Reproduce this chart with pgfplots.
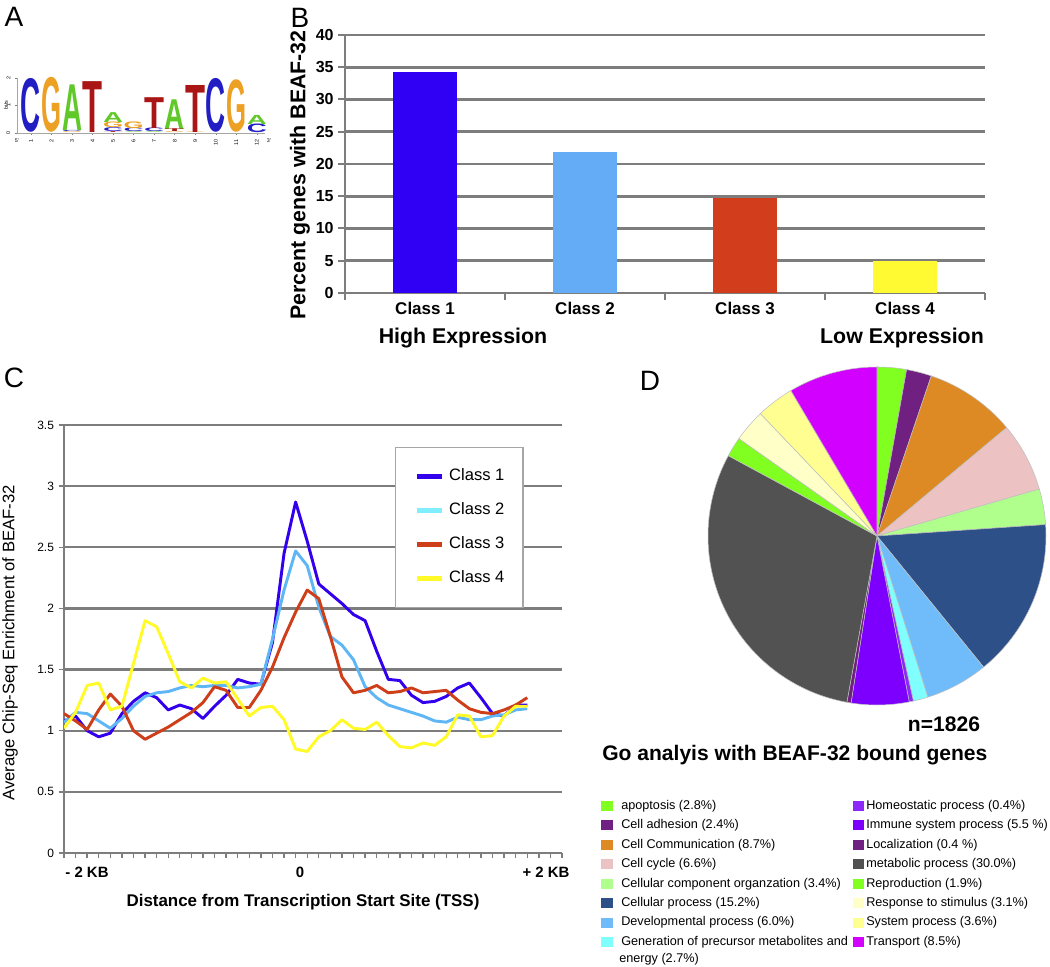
\documentclass[border=0pt]{standalone}
\usepackage{fontspec}
\setmainfont{Liberation Sans}
\usepackage{graphicx}
\usepackage{pgfplots}
\usepackage{pgfplotstable}
\pgfplotsset{compat=1.18}

\newcommand\fs[1]{\fontsize{#1pt}{#1pt}\selectfont}

% colours
\definecolor{axgray}{RGB}{125,125,125}
\definecolor{logoA}{RGB}{96,200,40}
\definecolor{logoC}{RGB}{34,30,196}
\definecolor{logoG}{RGB}{236,160,36}
\definecolor{logoT}{RGB}{170,22,22}
\definecolor{b1}{RGB}{48,0,245}
\definecolor{b2}{RGB}{100,172,245}
\definecolor{b3}{RGB}{210,62,28}
\definecolor{b4}{RGB}{255,250,50}
\definecolor{l1}{RGB}{51,0,238}
\definecolor{l2}{RGB}{95,182,245}
\definecolor{l2leg}{RGB}{128,238,252}
\definecolor{l3}{RGB}{205,62,25}
\definecolor{l4}{RGB}{255,250,40}
\definecolor{cApop}{RGB}{128,255,32}
\definecolor{cAdh}{RGB}{112,32,128}
\definecolor{cComm}{RGB}{222,138,36}
\definecolor{cCyc}{RGB}{236,194,194}
\definecolor{cComp}{RGB}{176,255,140}
\definecolor{cCell}{RGB}{46,80,136}
\definecolor{cDev}{RGB}{112,188,250}
\definecolor{cGen}{RGB}{128,255,255}
\definecolor{cHom}{RGB}{140,40,250}
\definecolor{cImm}{RGB}{125,0,255}
\definecolor{cLoc}{RGB}{112,32,128}
\definecolor{cMet}{RGB}{82,82,82}
\definecolor{cRep}{RGB}{128,255,32}
\definecolor{cResp}{RGB}{255,255,200}
\definecolor{cSys}{RGB}{255,255,145}
\definecolor{cTrans}{RGB}{210,0,255}

% A: motif letters, one table per base (position, stack base, height in bits)
\pgfplotstableread{
pos base h
3 0.07 1.66
5 0.37 0.36
6 0.00 0.03
7 0.00 0.03
8 0.13 1.08
12 0.31 0.33
}\logoAdata
\pgfplotstableread{
pos base h
1 0.00 1.93
3 0.03 0.04
5 0.03 0.14
6 0.03 0.13
7 0.03 0.13
10 0.00 1.93
12 0.00 0.31
}\logoCdata
\pgfplotstableread{
pos base h
2 0.00 1.97
3 0.00 0.03
5 0.17 0.20
6 0.16 0.24
8 0.00 0.03
9 0.00 0.02
11 0.00 1.88
}\logoGdata
\pgfplotstableread{
pos base h
4 0.00 1.85
5 0.00 0.03
7 0.16 1.12
8 0.03 0.10
9 0.02 1.71
}\logoTdata

% C: enrichment profiles, 41 bins from -2 kb to +2 kb
\pgfplotstableread{
i c1 c2 c3 c4
0 1.08 1.07 1.14 1.02
1 1.12 1.15 1.08 1.15
2 1.00 1.14 1.01 1.37
3 0.95 1.08 1.17 1.39
4 0.98 1.02 1.30 1.17
5 1.14 1.10 1.20 1.20
6 1.24 1.20 1.00 1.55
7 1.31 1.28 0.93 1.90
8 1.27 1.31 0.98 1.85
9 1.17 1.32 1.03 1.63
10 1.21 1.35 1.09 1.40
11 1.18 1.37 1.15 1.35
12 1.10 1.36 1.23 1.43
13 1.20 1.37 1.36 1.39
14 1.29 1.37 1.33 1.40
15 1.42 1.35 1.19 1.26
16 1.39 1.36 1.19 1.12
17 1.38 1.38 1.33 1.19
18 1.72 1.75 1.52 1.20
19 2.45 2.15 1.76 1.09
20 2.87 2.47 1.97 0.85
21 2.55 2.35 2.15 0.83
22 2.20 2.01 2.08 0.95
23 2.12 1.77 1.77 1.00
24 2.04 1.70 1.44 1.09
25 1.95 1.58 1.31 1.02
26 1.90 1.36 1.33 1.01
27 1.65 1.27 1.37 1.07
28 1.42 1.21 1.31 0.96
29 1.41 1.18 1.32 0.87
30 1.29 1.15 1.35 0.86
31 1.23 1.12 1.31 0.90
32 1.24 1.08 1.32 0.88
33 1.28 1.07 1.33 0.95
34 1.35 1.11 1.25 1.13
35 1.39 1.09 1.18 1.12
36 1.27 1.09 1.15 0.95
37 1.14 1.12 1.14 0.96
38 1.12 1.13 1.17 1.12
39 1.21 1.17 1.21 1.20
40 1.21 1.18 1.27 1.20
}\cdata

% D: GO categories, clockwise from 12 o'clock
\pgfplotstableread{
pct col
2.8 cApop
2.4 cAdh
8.7 cComm
6.6 cCyc
3.4 cComp
15.2 cCell
6.0 cDev
1.4 cGen
0.4 cHom
5.5 cImm
0.4 cLoc
30.0 cMet
1.9 cRep
3.1 cResp
3.6 cSys
8.5 cTrans
}\piedata

\pgfplotsset{
  /pgf/number format/assume math mode=true,
  logo letter/.style 2 args={draw=none, mark=none,
    visualization depends on={\thisrow{h}*20.625 \as \hgt},
    nodes near coords={\resizebox{15pt}{\hgt pt}{\textcolor{logo#1}{\bfseries #1}}},
    every node near coord/.append style={anchor=south, inner sep=0pt}},
}

\begin{document}
\begin{tikzpicture}[x=0.75pt,y=0.75pt]
\path[use as bounding box] (0,0) rectangle (1050,967);

% ---------------- panel labels
\node[font=\fs{21}] at (14,950) {A};
\node[font=\fs{21}] at (300,949) {B};
\node[font=\fs{21}] at (14,589) {C};
\node[font=\fs{21}] at (650,586) {D};

% ---------------- A: sequence logo
\begin{axis}[
  at={(12.75pt,625.5pt)}, anchor=south west, scale only axis,
  width=186pt, height=41.25pt,
  xmin=0.32, xmax=12.4, ymin=0, ymax=2,
  axis x line*=bottom, axis y line*=left,
  axis line style={draw=gray!70, line width=0.4pt},
  xtick={1,...,12}, ytick={0,1,2},
  ticklabel style={font=\fs{4}},
  xticklabel style={rotate=90, anchor=east},
  yticklabel style={rotate=90, anchor=south},
  tick style={draw=gray, line width=0.3pt}, major tick length=1.5pt, tick align=outside,
  clip=false,
]
\addplot[logo letter={A}{}] table[x=pos, y=base] {\logoAdata};
\addplot[logo letter={C}{}] table[x=pos, y=base] {\logoCdata};
\addplot[logo letter={G}{}] table[x=pos, y=base] {\logoGdata};
\addplot[logo letter={T}{}] table[x=pos, y=base] {\logoTdata};
\end{axis}
\node[font=\fs{4}, rotate=90] at (6,862) {bits};
\node[font=\fs{4}] at (17,826) {5'};
\node[font=\fs{4}] at (269,826) {3'};

% ---------------- B: bars
\begin{axis}[
  at={(258.75pt,505.5pt)}, anchor=south west, scale only axis,
  width=480pt, height=193.5pt,
  xmin=0, xmax=4, ymin=0, ymax=40,
  xtick={0,1,2,3,4}, xticklabels={},
  ytick={0,5,...,40},
  extra x ticks={0.5,1.5,2.5,3.5},
  extra x tick labels={Class 1,Class 2,Class 3,Class 4},
  extra x tick style={major tick length=0pt, grid=none,
    tick label style={font=\bfseries\fs{12.75}, yshift=-3pt}},
  yticklabel style={font=\bfseries\fs{12}},
  ymajorgrids, grid style={draw=axgray, line width=2pt},
  axis x line*=bottom, axis y line*=left,
  axis line style={draw=axgray, line width=2pt},
  tick align=outside, major tick length=5pt,
  tick style={draw=axgray, line width=1.5pt},
]
\addplot[ybar, bar shift=0pt, bar width=48pt, fill=b1, draw=none] coordinates {(0.5,34.3)};
\addplot[ybar, bar shift=0pt, bar width=48pt, fill=b2, draw=none] coordinates {(1.5,21.9)};
\addplot[ybar, bar shift=0pt, bar width=48pt, fill=b3, draw=none] coordinates {(2.5,14.7)};
\addplot[ybar, bar shift=0pt, bar width=48pt, fill=b4, draw=none] coordinates {(3.5,4.9)};
\end{axis}
\node[font=\bfseries\fs{16}, rotate=90] at (300,792) {Percent genes with BEAF-32};
\node[font=\bfseries\fs{16}] at (463,629) {High Expression};
\node[font=\bfseries\fs{16}] at (902,629) {Low Expression};

% ---------------- C: profiles
\begin{axis}[
  at={(48pt,85.5pt)}, anchor=south west, scale only axis,
  width=373.5pt, height=321pt,
  xmin=0, xmax=43, ymin=0, ymax=3.5,
  xtick={0,...,43}, xticklabels={},
  ytick={0,0.5,1,1.5,2,2.5,3,3.5},
  yticklabel style={font=\fs{9}},
  ymajorgrids, grid style={draw=axgray, line width=1.7pt},
  axis x line*=bottom, axis y line*=left,
  axis line style={draw=axgray, line width=1.7pt},
  tick align=outside, major tick length=4pt,
  tick style={draw=axgray, line width=1pt},
  legend cell align=left,
  legend style={at={(0.6647,0.9486)}, anchor=north west,
    draw=gray!70, line width=0.8pt, fill=white, font=\fs{12.4},
    inner xsep=14pt, inner ysep=16pt, row sep=14pt, column sep=4pt,
    nodes={inner sep=0pt, text height=9pt, text depth=2.5pt}},
  legend image code/.code={\draw[#1, line width=3.5pt] (0pt,0pt) -- (18.75pt,0pt);},
]
\addplot[l1, line width=2.2pt, line join=round, mark=none] table[x=i, y=c1] {\cdata};
\addlegendentry{Class 1}
\addplot[l2, line width=2.2pt, line join=round, mark=none,
  legend image post style={draw=l2leg}] table[x=i, y=c2] {\cdata};
\addlegendentry{Class 2}
\addplot[l3, line width=2.2pt, line join=round, mark=none] table[x=i, y=c3] {\cdata};
\addlegendentry{Class 3}
\addplot[l4, line width=2.2pt, line join=round, mark=none] table[x=i, y=c4] {\cdata};
\addlegendentry{Class 4}
\end{axis}
\node[font=\fs{12.5}, rotate=90] at (10,324) {Average Chip-Seq Enrichment of BEAF-32};
\node[font=\bfseries\fs{11.2}] at (87,95) {- 2 KB};
\node[font=\bfseries\fs{11.2}] at (300,95) {0};
\node[font=\bfseries\fs{11.2}] at (546,95) {+ 2 KB};
\node[font=\bfseries\fs{12.7}] at (303,65) {Distance from Transcription Start Site (TSS)};

% ---------------- D: pie
\begin{axis}[
  at={(657.75pt,323.25pt)}, anchor=center, scale only axis,
  width=253.5pt, height=253.5pt,
  xmin=-1, xmax=1, ymin=-1, ymax=1,
  hide axis, clip=false,
]
\def\pieR{126.75pt}
\def\pietotal{0}
\pgfplotsforeachungrouped \i in {0,...,15}{%
  \pgfplotstablegetelem{\i}{pct}\of\piedata
  \pgfmathsetmacro\pietotal{\pietotal+\pgfplotsretval}}
\def\cum{0}
\pgfplotsforeachungrouped \i in {0,...,15}{%
  \pgfplotstablegetelem{\i}{pct}\of\piedata \let\ppct=\pgfplotsretval
  \pgfplotstablegetelem{\i}{col}\of\piedata \let\pcol=\pgfplotsretval
  \pgfmathsetmacro\angA{90-360*(\cum/\pietotal)}%
  \pgfmathsetmacro\cum{\cum+\ppct}%
  \pgfmathsetmacro\angB{90-360*(\cum/\pietotal)}%
  \edef\sector{\noexpand\filldraw[fill=\pcol, draw=gray!50, line width=0.4pt]
    (axis cs:0,0) -- ++(\angA:\pieR) arc[start angle=\angA, end angle=\angB, radius=\pieR] -- cycle;}%
  \sector
}
\end{axis}
\node[font=\bfseries\fs{15.8}] at (944,243) {n=1826};
\node[font=\bfseries\fs{15.8}, anchor=west, inner sep=0pt] at (602,212) {Go analyis with BEAF-32 bound genes};

\foreach \txt/\col [count=\k from 0] in {
  apoptosis (2.8\%)/cApop, Cell adhesion (2.4\%)/cAdh,
  Cell Communication (8.7\%)/cComm, Cell cycle (6.6\%)/cCyc,
  Cellular component organzation (3.4\%)/cComp, Cellular process (15.2\%)/cCell,
  Developmental process (6.0\%)/cDev, Generation of precursor metabolites and/cGen}{
  \pgfmathsetmacro\yy{967-806-19.45*\k}
  \fill[\col] (601,\yy-5) rectangle (613,\yy+5);
  \node[font=\fs{9.5}, anchor=west, inner sep=0pt] at (621,\yy) {\txt};
}
\node[font=\fs{9.5}, anchor=west, inner sep=0pt] at (619,8) {energy (2.7\%)};
\foreach \txt/\col [count=\k from 0] in {
  Homeostatic process (0.4\%)/cHom, Immune system process (5.5 \%)/cImm,
  Localization (0.4 \%)/cLoc, metabolic process (30.0\%)/cMet,
  Reproduction (1.9\%)/cRep, Response to stimulus (3.1\%)/cResp,
  System process (3.6\%)/cSys, Transport (8.5\%)/cTrans}{
  \pgfmathsetmacro\yy{967-806-19.45*\k}
  \fill[\col] (853,\yy-5) rectangle (864,\yy+5);
  \node[font=\fs{9.5}, anchor=west, inner sep=0pt] at (866,\yy) {\txt};
}
\end{tikzpicture}
\end{document}
